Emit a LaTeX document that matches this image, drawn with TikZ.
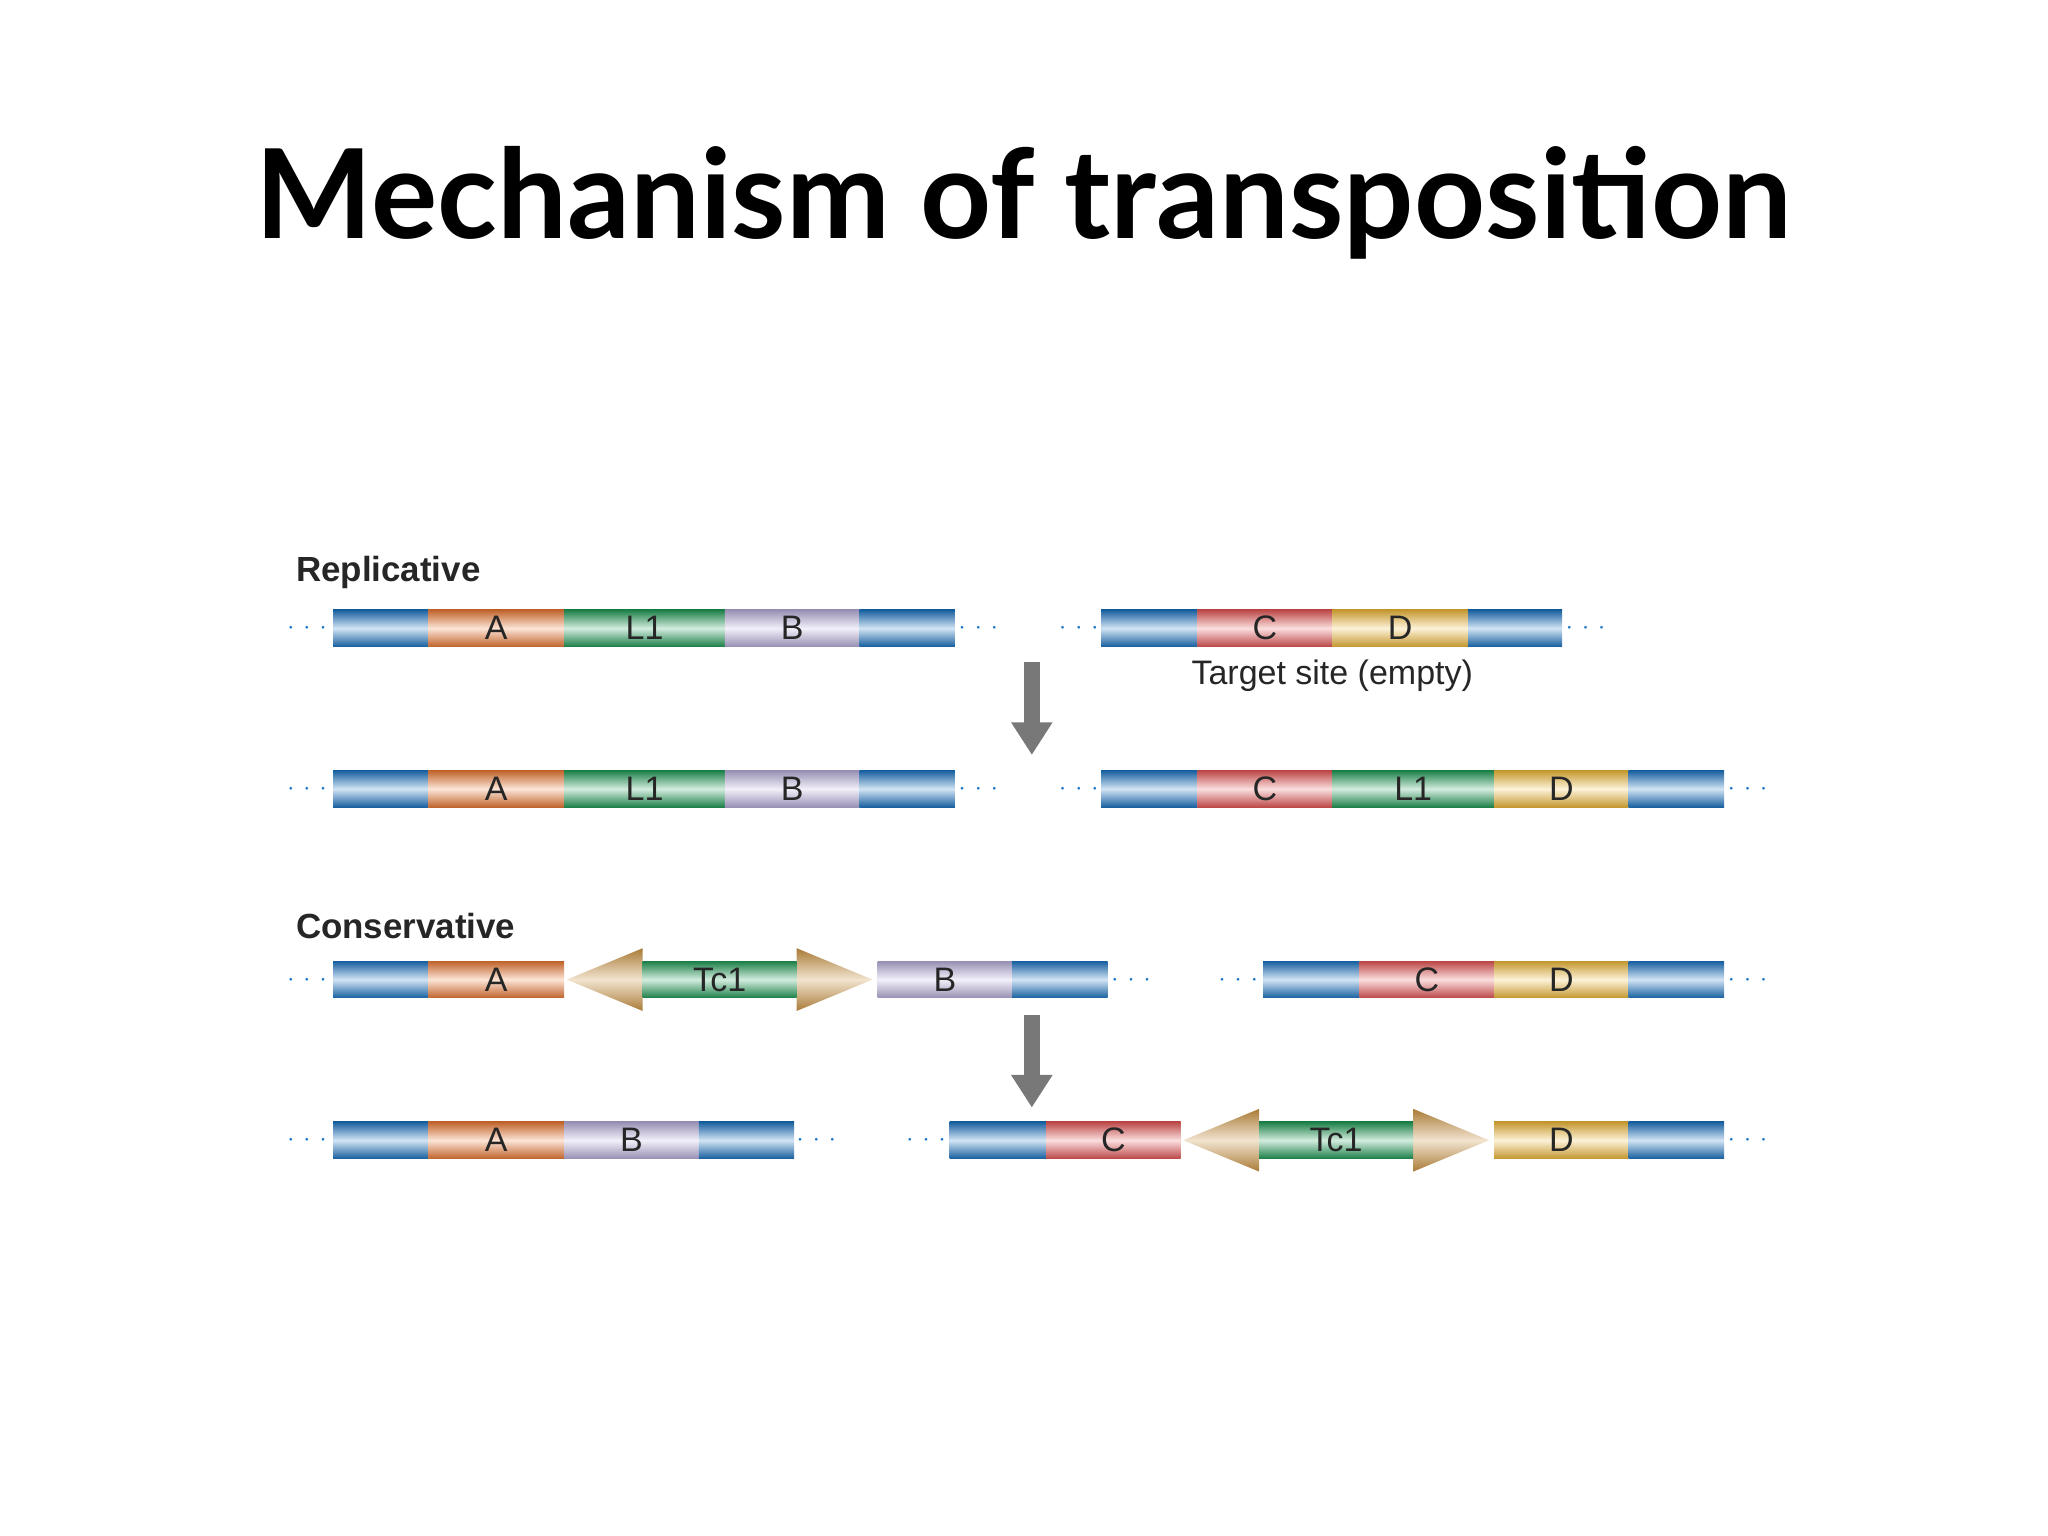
\documentclass[tikz,border=0pt]{standalone}
\usepackage{fontspec}
\setmainfont{Liberation Sans}
\newfontfamily\lato{Lato}
\usetikzlibrary{arrows.meta,positioning}
\definecolor{dnablue}{RGB}{30,120,200}
\definecolor{segorange}{RGB}{240,125,55}
\definecolor{seggreen}{RGB}{35,160,90}
\definecolor{seglav}{RGB}{190,180,225}
\definecolor{segred}{RGB}{235,90,90}
\definecolor{segyellow}{RGB}{245,190,60}
\definecolor{segtan}{RGB}{200,145,65}
\definecolor{arrowgray}{RGB}{120,120,120}

% one bar segment: x1, x2, y, colour, label
\newcommand{\seg}[5]{%
  \shade[top color=#4!80!black, bottom color=#4!80!black, middle color=#4!20] (#1,#3-14) rectangle (#2,#3+14);
  \node[seglabel] at ({(#1+#2)/2},#3) {#5};}
% transposon with inverted repeats: left tip, right tip, y
\newcommand{\tcone}[3]{%
  \shade[top color=segtan!85!black, bottom color=segtan!85!black, middle color=segtan!25]
    (#1,#3) -- (#1+58,#3-24) -- (#1+58,#3-14) -- (#2-58,#3-14) -- (#2-58,#3-24) -- (#2,#3)
    -- (#2-58,#3+24) -- (#2-58,#3+14) -- (#1+58,#3+14) -- (#1+58,#3+24) -- cycle;
  \seg{#1+58}{#2-58}{#3}{seggreen}{Tc1}}
\newcommand{\dnaends}[3]{% dots left, dots right, y
  \node[dnadots] at (#1,#3) {$\cdots$};
  \node[dnadots] at (#2,#3) {$\cdots$};}

\begin{document}
\begin{tikzpicture}[
    x=0.01cm, y=-0.01cm,
    seglabel/.style={font=\fontsize{7.4}{8}\selectfont, text=black!85, inner sep=0pt},
    dnadots/.style={font=\tiny, text=dnablue, inner sep=0pt},
    heading/.style={font=\fontsize{7.6}{9}\selectfont\bfseries, text=black!85, anchor=west, inner sep=0pt},
    steparrow/.style={arrowgray, line width=0.12cm, -{Triangle[length=0.25cm, width=0.3cm]}}
]
\useasboundingbox (0,0) rectangle (1568,1176);

% Title
\node[font=\lato\bfseries\fontsize{27}{32}\selectfont] (title) at (784,155) {Mechanism of transposition};

% Replicative
\node[heading] (replicative) at (226,438) {Replicative};
\dnaends{235}{749}{481}
\seg{255}{328}{481}{dnablue}{}
\seg{328}{432}{481}{segorange}{A}
\seg{432}{555}{481}{seggreen}{L1}
\seg{555}{658}{481}{seglav}{B}
\seg{658}{731}{481}{dnablue}{}
\dnaends{826}{1214}{481}
\seg{843}{917}{481}{dnablue}{}
\seg{917}{1020}{481}{segred}{C}
\seg{1020}{1124}{481}{segyellow}{D}
\seg{1124}{1196}{481}{dnablue}{}
\node[seglabel] (target) at (1020,517) {Target site (empty)};

\coordinate (rtop) at (790,507);
\coordinate (rbot) at (790,578);
\draw[steparrow] (rtop) -- (rbot);

\dnaends{235}{749}{604}
\seg{255}{328}{604}{dnablue}{}
\seg{328}{432}{604}{segorange}{A}
\seg{432}{555}{604}{seggreen}{L1}
\seg{555}{658}{604}{seglav}{B}
\seg{658}{731}{604}{dnablue}{}
\dnaends{826}{1338}{604}
\seg{843}{917}{604}{dnablue}{}
\seg{917}{1020}{604}{segred}{C}
\seg{1020}{1144}{604}{seggreen}{L1}
\seg{1144}{1247}{604}{segyellow}{D}
\seg{1247}{1320}{604}{dnablue}{}

% Conservative
\node[heading] (conservative) at (226,709) {Conservative};
\dnaends{235}{866}{750}
\seg{255}{328}{750}{dnablue}{}
\seg{328}{432}{750}{segorange}{A}
\tcone{434}{668}{750}
\seg{672}{775}{750}{seglav}{B}
\seg{775}{848}{750}{dnablue}{}
\dnaends{948}{1338}{750}
\seg{967}{1041}{750}{dnablue}{}
\seg{1041}{1144}{750}{segred}{C}
\seg{1144}{1247}{750}{segyellow}{D}
\seg{1247}{1320}{750}{dnablue}{}

\coordinate (ctop) at (790,777);
\coordinate (cbot) at (790,848);
\draw[steparrow] (ctop) -- (cbot);

\dnaends{235}{625}{873}
\seg{255}{328}{873}{dnablue}{}
\seg{328}{432}{873}{segorange}{A}
\seg{432}{535}{873}{seglav}{B}
\seg{535}{608}{873}{dnablue}{}
\dnaends{709}{1338}{873}
\seg{727}{801}{873}{dnablue}{}
\seg{801}{904}{873}{segred}{C}
\tcone{906}{1140}{873}
\seg{1144}{1247}{873}{segyellow}{D}
\seg{1247}{1320}{873}{dnablue}{}
\end{tikzpicture}
\end{document}
